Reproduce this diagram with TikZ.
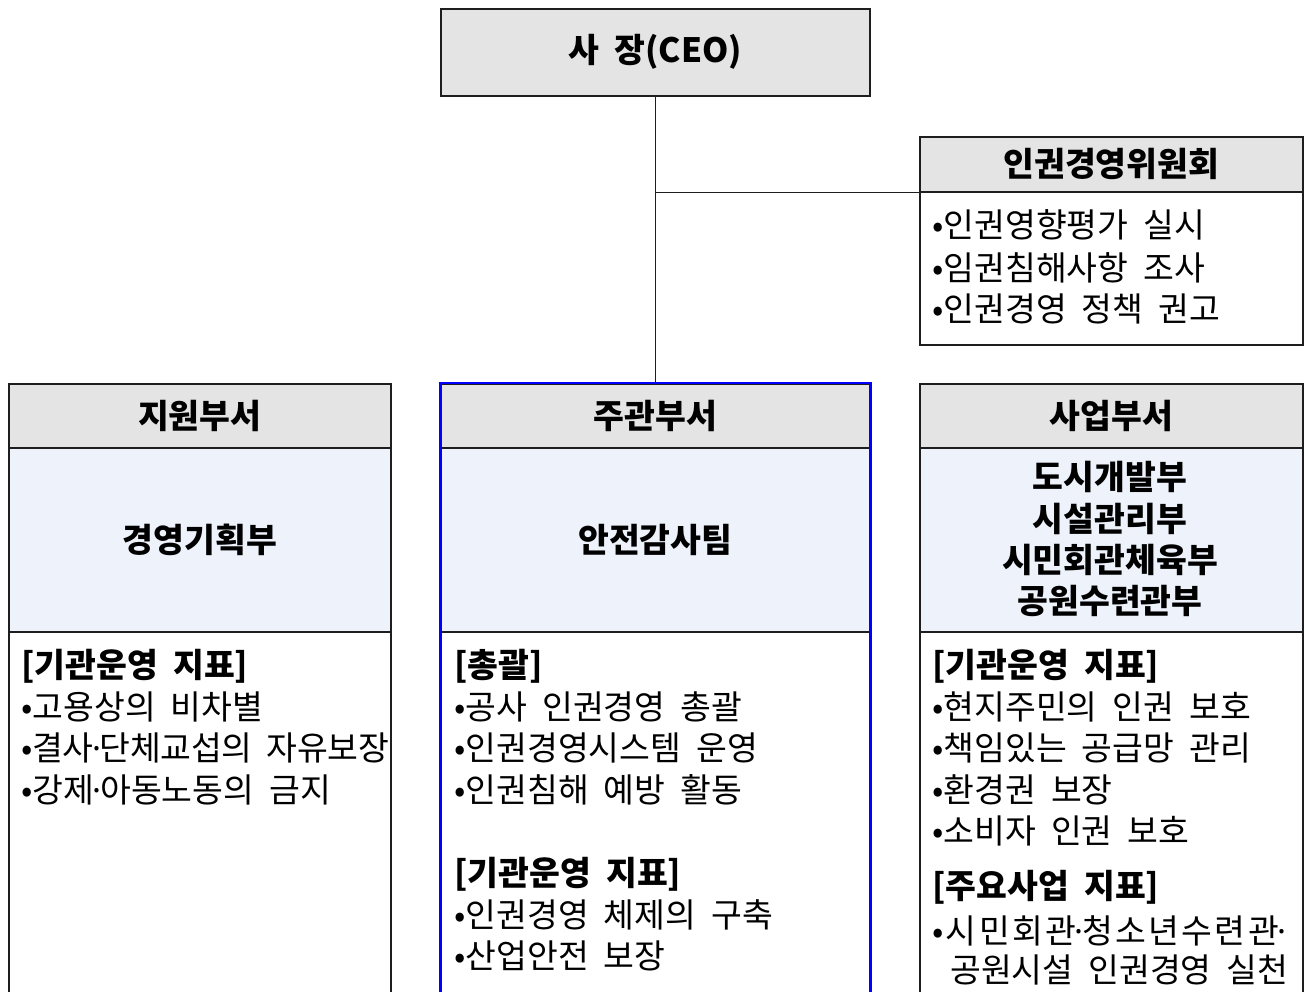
\documentclass[tikz,border=0pt]{standalone}
\usepackage{fontspec}
\setmainfont[WordSpace=2]{Noto Sans CJK KR}
\newfontfamily\dotfont{Noto Sans}
\newcommand{\mdot}{\kern-1.5pt{\dotfont ·}\kern-1.5pt}
\definecolor{hdr}{HTML}{E4E4E4}
\definecolor{mid}{HTML}{EDF2FB}
\definecolor{edge}{HTML}{1E1E1E}
\begin{document}
\begin{tikzpicture}[x=1pt,y=-1pt,
  box/.style={draw=edge, line width=1.6pt, inner sep=0pt, anchor=north west},
  hdrbox/.style={box, fill=hdr, font=\fontsize{33.5}{40}\selectfont\bfseries},
  midbox/.style={box, fill=mid, font=\fontsize{33.5}{40}\selectfont\bfseries},
  bodybox/.style={box, fill=white},
  txt/.style={font=\fontsize{33.5}{40}\selectfont, inner sep=0pt, anchor=base west},
  btxt/.style={font=\fontsize{33.5}{40}\selectfont\bfseries, inner sep=0pt, anchor=base west},
  ctxt/.style={font=\fontsize{33.5}{40}\selectfont\bfseries, inner sep=0pt, anchor=base},
  link/.style={draw=edge, line width=0.8pt}]
\useasboundingbox (0,0) rectangle (1306,992);
\clip (0,0) rectangle (1306,992);
% CEO
\node[hdrbox, minimum width=429pt, minimum height=87pt] (ceo) at (440,8) {사 장(CEO)};
% committee
\node[hdrbox, minimum width=383pt, minimum height=55pt] (comh) at (919,136) {인권경영위원회};
\node[bodybox, minimum width=383pt, minimum height=153pt] (comb) at (919,191) {};
\node[txt] (c1) at (932,238) {•인권영향평가 실시};
\node[txt] (c2) at (932,280) {•임권침해사항 조사};
\node[txt] (c3) at (932,321) {•인권경영 정책 권고};
% left column
\node[hdrbox, minimum width=382pt, minimum height=64pt] (lh) at (8,383) {지원부서};
\node[midbox, minimum width=382pt, minimum height=184pt] (lm) at (8,447) {경영기획부};
\node[bodybox, minimum width=382pt, minimum height=400pt] (lb) at (8,631) {};
\node[btxt] (l1) at (21,677) {[기관운영 지표]};
\node[txt] (l2) at (21,719) {•고용상의 비차별};
\node[txt] (l3) at (21,760) {\addfontfeature{LetterSpace=-1}•결사\mdot 단체교섭의 자유보장};
\node[txt] (l4) at (21,802) {•강제\mdot 아동노동의 금지};
% center column
\node[hdrbox, minimum width=429pt, minimum height=64pt] (ch) at (440,383) {주관부서};
\node[midbox, minimum width=429pt, minimum height=184pt] (cm) at (440,447) {안전감사팀};
\node[bodybox, minimum width=429pt, minimum height=400pt] (cb) at (440,631) {};
\draw[blue, line width=2.6pt] (ch.north west) rectangle (cb.south east);
\node[btxt] (m1) at (454,677) {[총괄]};
\node[txt] (m2) at (454,719) {•공사 인권경영 총괄};
\node[txt] (m3) at (454,760) {•인권경영시스템 운영};
\node[txt] (m4) at (454,802) {•인권침해 예방 활동};
\node[btxt] (m5) at (454,885) {[기관운영 지표]};
\node[txt] (m6) at (454,927) {•인권경영 체제의 구축};
\node[txt] (m7) at (454,968) {•산업안전 보장};
% right column
\node[hdrbox, minimum width=383pt, minimum height=64pt] (rh) at (919,383) {사업부서};
\node[midbox, minimum width=383pt, minimum height=184pt] (rm) at (919,447) {};
\node[ctxt] (r1) at (1110,489) {도시개발부};
\node[ctxt] (r2) at (1110,531) {시설관리부};
\node[ctxt] (r3) at (1110,572) {시민회관체육부};
\node[ctxt] (r4) at (1110,613) {공원수련관부};
\node[bodybox, minimum width=383pt, minimum height=400pt] (rb) at (919,631) {};
\node[btxt] (s1) at (932,677) {[기관운영 지표]};
\node[txt] (s2) at (932,719) {•현지주민의 인권 보호};
\node[txt] (s3) at (932,760) {•책임있는 공급망 관리};
\node[txt] (s4) at (932,802) {•환경권 보장};
\node[txt] (s5) at (932,843) {•소비자 인권 보호};
\node[btxt] (s6) at (932,898) {[주요사업 지표]};
\node[txt] (s7) at (932,943) {\addfontfeature{LetterSpace=7}•시민회관\mdot 청소년수련관\mdot};
\node[txt] (s8) at (950,982) {공원시설 인권경영 실천};
% connectors
\coordinate (j) at (ceo.south |- comh.south);
\draw[link] (ceo.south) -- (ch.north);
\draw[link] (j) -- (comh.south west);
\end{tikzpicture}
\end{document}
